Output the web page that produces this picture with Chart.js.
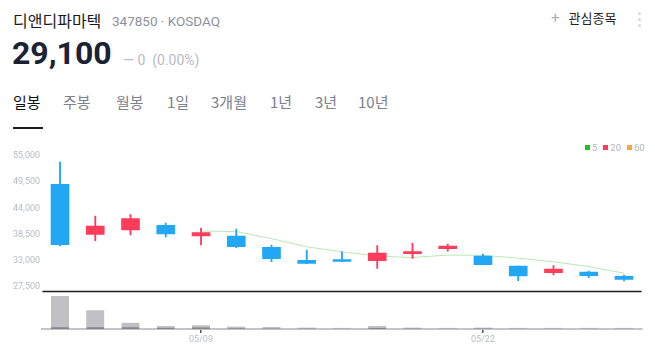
<!DOCTYPE html>
<html lang="ko">
<head>
<meta charset="utf-8">
<script src="https://cdn.jsdelivr.net/npm/chart.js@4.4.1/dist/chart.umd.min.js"></script>
<style>
    html, body { margin: 0; padding: 0; background: #fff; }
    body { width: 655px; height: 351px; position: relative; overflow: hidden;
           font-family: Roboto, "Noto Sans CJK KR", sans-serif; }
    .abs { position: absolute; white-space: nowrap; line-height: 1; }
    #name { left: 13px; top: 12px; font-size: 16px; color: #1a1a1a; font-family: "Noto Sans CJK KR", sans-serif; }
    #code { left: 112px; top: 15px; font-size: 13.5px; color: #8c919b; }
    #price { left: 12px; top: 37px; font-size: 32px; font-weight: 700; color: #1b2233; }
    #change { left: 123px; top: 53px; font-size: 14px; color: #b8bcc4; }
    #watch { left: 551px; top: 11px; font-size: 13px; color: #222; font-family: "Noto Sans CJK KR", sans-serif; }
    #watch span { color: #a9b0bb; font-size: 15px; margin-right: 9px; font-family: Roboto, sans-serif; }
    #more { left: 638px; top: 12px; width: 4px; }
    #more i { display: block; width: 3px; height: 3px; border-radius: 50%; background: #d4d7dc; margin-bottom: 3px; }
    .tab { top: 94px; font-size: 15px; color: #7c818b; font-family: "Noto Sans CJK KR", sans-serif; }
    .tab.on { color: #111; }
    #underline { left: 13px; top: 127px; width: 30px; height: 2px; background: #1a1a1a; }
    #legend { left: 585px; top: 143px; font-size: 9.5px; color: #b3b6bd; }
    #legend b { display: inline-block; width: 5px; height: 5px; margin: 0 2px 0 0; vertical-align: 1px; }
    #legend em { font-style: normal; margin-right: 6px; }
    #wrap { position: absolute; left: 0; top: 140px; width: 655px; height: 211px; }
</style>
</head>
<body>
<div class="abs" id="name">디앤디파마텍</div>
<div class="abs" id="code">347850 · KOSDAQ</div>
<div class="abs" id="price">29,100</div>
<div class="abs" id="change">— 0 &nbsp;(0.00%)</div>
<div class="abs" id="watch"><span>+</span>관심종목</div>
<div class="abs" id="more"><i></i><i></i><i></i></div>

<div class="abs tab on" style="left:13px">일봉</div>
<div class="abs tab" style="left:63px">주봉</div>
<div class="abs tab" style="left:116px">월봉</div>
<div class="abs tab" style="left:167px">1일</div>
<div class="abs tab" style="left:211px">3개월</div>
<div class="abs tab" style="left:270px">1년</div>
<div class="abs tab" style="left:315px">3년</div>
<div class="abs tab" style="left:358px">10년</div>
<div class="abs" id="underline"></div>

<div class="abs" id="legend"><b style="background:#1fc21f"></b><em>5</em><b style="background:#ff3d5b"></b><em>20</em><b style="background:#ffa53a"></b><em style="margin:0">60</em></div>

<div id="wrap"><canvas id="chart" width="655" height="211"></canvas></div>

<script>
// --- DATOS ---
const dates = ['05/02', '05/03', '05/07', '05/08', '05/09', '05/10', '05/13', '05/14', '05/16',
               '05/17', '05/20', '05/21', '05/22', '05/23', '05/24', '05/27', '05/28'];
const opens  = [49060, 38560, 39470, 40450, 38210, 38210, 35830, 33100, 33000, 33030, 34500, 35550, 34010, 31910, 30500, 30650, 29740];
const highs  = [53740, 42400, 42680, 40940, 39820, 39680, 36320, 35270, 34900, 36180, 36670, 36530, 34430, 31910, 31980, 30860, 30020];
const lows   = [36110, 37220, 38420, 38000, 36320, 35760, 32820, 32400, 32800, 31420, 33520, 35000, 32190, 28830, 30020, 29460, 28760];
const closes = [36380, 40300, 41840, 38630, 38910, 35970, 33450, 32470, 32850, 34640, 34850, 36110, 32190, 29810, 31280, 29880, 29100];
const ma5    = [null, null, null, null, 39250, 39140, 37650, 35930, 34900, 33980, 33700, 34200, 34150, 33560, 32800, 31800, 30400];
const volumes = [3300000, 1880000, 630000, 300000, 380000, 240000, 190000, 150000, 120000,
                 290000, 150000, 120000, 150000, 120000, 120000, 120000, 120000];
const priceTicks = [27500, 33000, 38500, 44000, 49500, 55000];
const shownDates = ['05/09', '05/22'];

const UP = '#ff3d5b';
const DOWN = '#22a7f4';
const VOL_PANE_TOP = 3800000;   // volumen en la línea separadora

const candleColors = opens.map((o, i) => closes[i] >= o ? UP : DOWN);

// separador negro entre precio y volumen
const separatorPlugin = {
    id: 'separator',
    afterDatasetsDraw(chart) {
        const { ctx, chartArea } = chart;
        const y = Math.round(chart.scales.yv.getPixelForValue(VOL_PANE_TOP)) + 0.5;
        ctx.save();
        ctx.strokeStyle = '#1e1e1e';
        ctx.lineWidth = 1.5;
        ctx.beginPath();
        ctx.moveTo(chartArea.left, y);
        ctx.lineTo(chartArea.right, y);
        ctx.stroke();
        ctx.restore();
    }
};

new Chart(document.getElementById('chart'), {
    data: {
        labels: dates,
        datasets: [
            {
                type: 'line',
                data: ma5,
                yAxisID: 'y',
                borderColor: '#b9e8b6',
                borderWidth: 1,
                pointRadius: 0,
                tension: 0,
                order: 3
            },
            {
                type: 'bar',
                data: lows.map((l, i) => [l, highs[i]]),
                yAxisID: 'y',
                backgroundColor: candleColors,
                barThickness: 1.2,
                grouped: false,
                order: 2
            },
            {
                type: 'bar',
                data: opens.map((o, i) => [o, closes[i]]),
                yAxisID: 'y',
                backgroundColor: candleColors,
                barThickness: 18,
                minBarLength: 2,
                grouped: false,
                order: 1
            },
            {
                type: 'bar',
                data: volumes,
                yAxisID: 'yv',
                backgroundColor: '#bfbfc4',
                borderColor: '#85868b',
                borderWidth: { top: 0, left: 0, right: 0, bottom: 2 },
                borderSkipped: false,
                barThickness: 18,
                grouped: false,
                order: 4
            }
        ]
    },
    options: {
        responsive: false,
        animation: false,
        layout: { padding: { left: 13, right: 13.4, top: 11, bottom: 0 } },
        plugins: {
            legend: { display: false },
            tooltip: { enabled: false }
        },
        scales: {
            x: {
                offset: true,
                grid: {
                    offset: false,
                    drawOnChartArea: false,
                    drawTicks: true,
                    tickLength: 4,
                    lineWidth: 1.5,
                    color: ctx => shownDates.includes(dates[ctx.index]) ? '#555' : 'rgba(0,0,0,0)'
                },
                border: { display: true, color: '#c3c4c9', width: 2 },
                ticks: {
                    autoSkip: false,
                    maxRotation: 0,
                    padding: 1,
                    color: '#b9bcc4',
                    font: { family: 'Roboto', size: 9 },
                    callback: (v, i) => shownDates.includes(dates[i]) ? dates[i] : ''
                },
                afterFit: axis => { axis.height = 22; }
            },
            y: {
                position: 'left',
                min: 18683,
                max: 56050,
                grid: { display: false },
                border: { display: false },
                ticks: {
                    crossAlign: 'far',
                    color: '#b7bbc3',
                    font: { family: 'Roboto', size: 9 },
                    callback: v => v.toLocaleString('en-US')
                },
                afterBuildTicks: axis => { axis.ticks = priceTicks.map(v => ({ value: v })); },
                afterFit: axis => { axis.width = 29.4; }
            },
            yv: {
                display: false,
                min: 0,
                max: VOL_PANE_TOP * 178 / 38
            }
        }
    },
    plugins: [separatorPlugin]
});
</script>
</body>
</html>
